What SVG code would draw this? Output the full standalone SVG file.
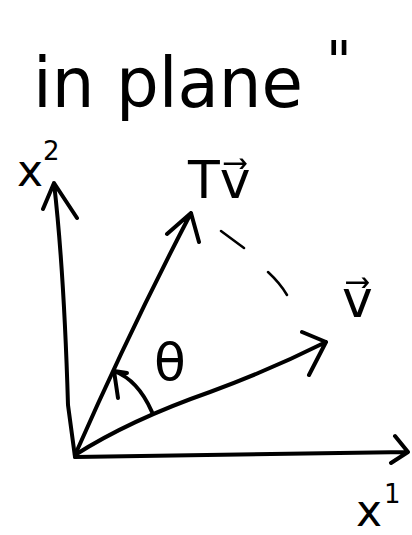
<svg xmlns="http://www.w3.org/2000/svg" width="412" height="535" viewBox="0 0 412 535">
<style>
.s{fill:none;stroke:#000;stroke-width:4;stroke-linecap:round;stroke-linejoin:round}
.d{fill:none;stroke:#000;stroke-width:2.5;stroke-linecap:round}
.t{font-family:"DejaVu Sans",sans-serif;fill:#000}
</style>
<rect width="412" height="535" fill="#fff"/>
<g id="title"><text class="t" x="33" y="107" font-size="70" textLength="270" lengthAdjust="spacingAndGlyphs">in plane</text><text class="t" x="326" y="80" font-size="56">"</text></g>
<g id="connectors">
<path id="x1-axis" class="s" d="M75,457 L408,452 M395,436 L408,452 L391,463"/>
<path id="x2-axis" class="s" d="M75,457 L68,405 Q64,270 54,183 M43,209 L54,183 L77,218"/>
<path id="Tv-vec" class="s" d="M75,455 Q130,330 191,213 M167,234 L191,213 L199,242"/>
<path id="v-vec" class="s" d="M75,455 Q130,420 210,392 Q270,370 326,342 M302,332 L326,342 L309,375"/>
<path id="dash" class="d" d="M221,231 L244,248 M268,272 Q280,283 287,295"/>
<path id="arc" class="s" d="M152,412 Q138,380 114,371 M118,398 L114,371 L127,373"/>
</g>
<g id="x2"><text class="t" x="17" y="186" font-size="44">x</text><text class="t" x="43" y="160" font-size="26">2</text></g>
<g id="Tv"><text class="t" x="188" y="198" font-size="52">Tv⃗</text></g>
<g id="v"><text class="t" x="342" y="317" font-size="52">v⃗</text></g>
<g id="theta"><text class="t" x="154" y="380" font-size="52">θ</text></g>
<g id="x1"><text class="t" x="356" y="526" font-size="44">x</text><text class="t" x="384" y="503" font-size="26">1</text></g>
</svg>
